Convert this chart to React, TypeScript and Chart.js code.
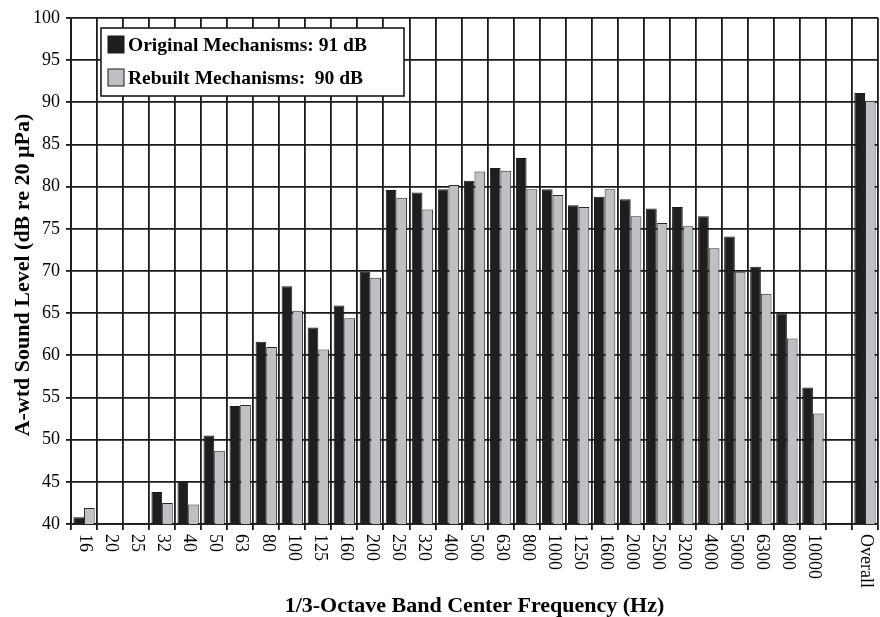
import React, { useEffect, useRef } from "react";
import { Chart, registerables } from "chart.js";

Chart.register(...registerables);

const categories = ["16", "20", "25", "32", "40", "50", "63", "80", "100", "125", "160", "200", "250", "320", "400", "500", "630", "800", "1000", "1250", "1600", "2000", "2500", "3200", "4000", "5000", "6300", "8000", "10000", "", "Overall"];
const original = [40.8, null, null, 43.8, 45.1, 50.5, 54.0, 61.6, 68.2, 63.3, 65.9, 69.9, 79.6, 79.3, 79.7, 80.7, 82.2, 83.4, 79.7, 77.8, 78.8, 78.5, 77.4, 77.6, 76.5, 74.1, 70.5, 65.0, 56.2, null, 91.1];
const rebuilt = [41.9, null, null, 42.5, 42.3, 48.7, 54.1, 61.0, 65.3, 60.7, 64.4, 69.2, 78.7, 77.3, 80.2, 81.8, 81.9, 79.7, 79.0, 77.6, 79.7, 76.5, 75.7, 75.3, 72.7, 69.9, 67.3, 62.0, 53.1, null, 90.2];
const seriesLabels = ["Original Mechanisms: 91 dB", "Rebuilt Mechanisms:  90 dB"];
const xTitle = "1/3-Octave Band Center Frequency (Hz)";
const yTitle = "A-wtd Sound Level (dB re 20 \u00b5Pa)";

const SERIF = "'Liberation Serif', 'Times New Roman', serif";
const INK = "#1a1a1a";

const customPlugin = {
  id: "custom",
  afterDatasetsDraw(chart: any) {
    const ctx = chart.ctx;
    const area = chart.chartArea;
    // legend box
    const bx = 101, by = 28, bw = 303, bh = 68;
    ctx.save();
    ctx.fillStyle = "#ffffff";
    ctx.fillRect(bx, by, bw, bh);
    ctx.lineWidth = 1.6;
    ctx.strokeStyle = INK;
    ctx.strokeRect(bx, by, bw, bh);
    chart.data.datasets.forEach((ds: any, i: number) => {
      const sy = 36 + i * 33;
      ctx.fillStyle = ds.backgroundColor;
      ctx.fillRect(108, sy, 16, 17);
      ctx.lineWidth = 1;
      ctx.strokeStyle = INK;
      ctx.strokeRect(108, sy, 16, 17);
      ctx.fillStyle = "#000";
      ctx.font = `bold 19.5px ${SERIF}`;
      ctx.textAlign = "left";
      ctx.textBaseline = "alphabetic";
      ctx.fillText(ds.label, 128, sy + 15);
    });
    ctx.restore();

    // x tick labels rotated clockwise
    const xs = chart.scales.x;
    ctx.save();
    ctx.fillStyle = "#000";
    ctx.font = `18px ${SERIF}`;
    ctx.textAlign = "left";
    ctx.textBaseline = "middle";
    categories.forEach((c, i) => {
      if (!c) return;
      const x = xs.getPixelForTick(i);
      ctx.save();
      ctx.translate(x + 1, area.bottom + 10);
      ctx.rotate(Math.PI / 2);
      ctx.fillText(c, 0, 0);
      ctx.restore();
    });
    // x title
    ctx.font = `bold 22px ${SERIF}`;
    ctx.textAlign = "center";
    ctx.textBaseline = "alphabetic";
    ctx.fillText(xTitle, (area.left + area.right) / 2, 612);
    // y title
    ctx.translate(29, (area.top + area.bottom) / 2 + 4);
    ctx.rotate(-Math.PI / 2);
    ctx.fillText(yTitle, 0, 0);
    ctx.restore();
  },
};

export default function App() {
  const ref = useRef<HTMLCanvasElement | null>(null);
  useEffect(() => {
    if (!ref.current) return;
    const chart = new Chart(ref.current, {
      type: "bar",
      data: {
        labels: categories,
        datasets: [
          {
            label: seriesLabels[0],
            data: original,
            backgroundColor: "#1f1d1e",
            borderColor: INK,
            borderWidth: 1,
          },
          {
            label: seriesLabels[1],
            data: rebuilt,
            backgroundColor: "#bfc0c4",
            borderColor: "#2a2a2a",
            borderWidth: 1,
          },
        ],
      } as any,
      options: {
        animation: false,
        responsive: true,
        maintainAspectRatio: false,
        datasets: { bar: { categoryPercentage: 0.82, barPercentage: 1 } },
        layout: { padding: { top: 18, right: 2, left: 0, bottom: 0 } },
        plugins: { legend: { display: false }, tooltip: { enabled: false } },
        scales: {
          x: {
            offset: true,
            grid: { offset: true, color: INK, lineWidth: 1.8, tickLength: 6 },
            border: { color: INK, width: 1.8 },
            ticks: { callback: () => "", maxRotation: 0, autoSkip: false },
            afterFit: (s: any) => { s.height = 93; },
          },
          y: {
            min: 40,
            max: 100,
            grid: { color: INK, lineWidth: 1.8, tickLength: 5 },
            border: { color: INK, width: 1.8 },
            ticks: { stepSize: 5, color: "#000", font: { family: SERIF, size: 18 }, padding: 6 },
            afterFit: (s: any) => { s.width = 71; },
          },
        },
      },
      plugins: [customPlugin],
    });
    return () => chart.destroy();
  }, []);
  return (
    <div style={{ position: "absolute", left: 0, top: 0, width: 880, height: 617, background: "#fff" }}>
      <canvas ref={ref} />
    </div>
  );
}
